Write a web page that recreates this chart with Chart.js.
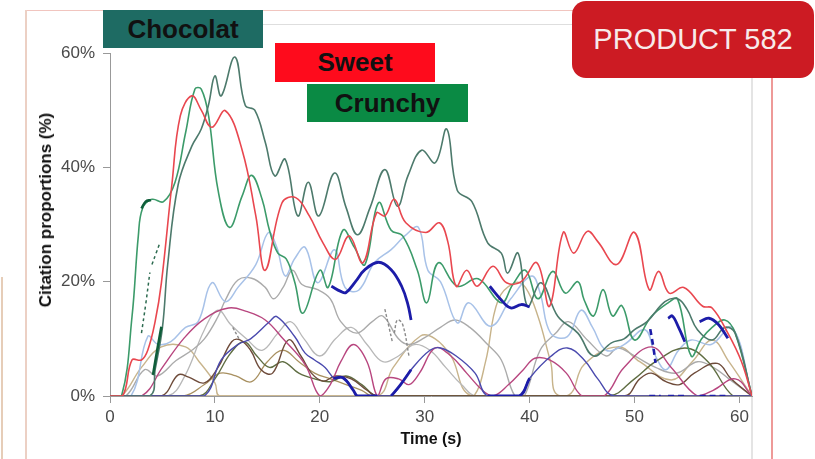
<!DOCTYPE html>
<html><head><meta charset="utf-8">
<script src="https://cdn.jsdelivr.net/npm/chart.js@4/dist/chart.umd.min.js"></script>
<style>
html,body{margin:0;padding:0;background:#fff;}
#wrap{position:relative;width:815px;height:459px;overflow:hidden;font-family:"Liberation Sans",Arial,sans-serif;background:#fff;}
canvas{position:absolute;left:0;top:0;}
.ln{position:absolute;}
.tag{position:absolute;display:flex;align-items:center;justify-content:center;font-weight:bold;font-size:26px;color:#111;}
#ytitle{position:absolute;left:46px;top:210px;width:0;height:0;}
#ytitle span{position:absolute;left:0;top:0;transform:translate(-50%,-50%) rotate(-90deg);white-space:nowrap;font-weight:bold;font-size:17px;color:#111;}
</style></head><body>
<div id="wrap">
  <div class="ln" style="left:25px;top:10px;width:548px;height:1px;background:#f1c5bf"></div>
  <div class="ln" style="left:25px;top:10px;width:2px;height:449px;background:#ecd0c4"></div>
  <div class="ln" style="left:1px;top:277px;width:2px;height:182px;background:#e6cdb8"></div>
  <div class="ln" style="left:771px;top:78px;width:2px;height:381px;background:#ee9a98"></div>
  <div class="ln" style="left:263px;top:24px;width:310px;height:1px;background:#dedede"></div>
  <div class="ln" style="left:751px;top:78px;width:2px;height:381px;background:#e4e4e4"></div>
  <canvas id="c" width="815" height="459"></canvas>
  <div id="ytitle"><span>Citation proportions (%)</span></div>
  <div class="tag" style="left:103px;top:10px;width:160px;height:38px;background:#1e6b63">Chocolat</div>
  <div class="tag" style="left:275px;top:43px;width:160px;height:39px;background:#fe0b1c">Sweet</div>
  <div class="tag" style="left:307px;top:84px;width:161px;height:38px;background:#0a8a44">Crunchy</div>
  <div class="tag" style="left:572px;top:1px;width:242px;height:77px;background:#cc1b23;border-radius:14px;font-weight:normal;font-size:29px;color:#f7eaea">PRODUCT 582</div>
</div>
<script>
// ---- data (time in s, citation proportion in %) ----
const xTicks = [0, 10, 20, 30, 40, 50, 60];
const yTicks = [0, 20, 40, 60];

const sweetT = [0,1.2,2.1,3.0,3.6,4.3,4.9,5.9,6.7,7.8,8.7,9.7,11.0,12.6,13.9,14.8,16.4,17.7,19.0,20.3,21.5,22.8,24.1,25.4,26.2,27.1,28.2,30.1,31.4,32.2,33.0,34.0,35.0,36.5,37.8,39.2,40.7,41.9,43.2,44.2,45.5,46.5,48.3,50.0,51.4,52.3,53.3,54.7,56.5,57.4,58.9,60.2,61.2];
const sweetV = [0,0,6.3,6.3,8,13,19.8,37,49,52.5,50,47,49.9,43,31.5,22,33.8,34.7,31.5,26.8,23.9,28,23.3,32,31.5,34.4,30.3,28.6,30.3,27,19.2,22,19.2,22.7,19.8,20,23.3,15.7,28.6,25,28.8,27,23,28.6,18.6,21.8,18,19,15.7,15.4,11,6,0];

const crunchyT = [0,1.1,2.1,2.7,3.1,4.0,5.1,6.2,7.2,8.1,8.7,9.4,10.3,11.4,12.6,13.5,14.5,15.2,16.0,16.8,17.6,18.4,20.0,20.8,22.2,23.3,24.3,25.6,26.8,27.9,29.3,30.2,31.3,33.1,35.1,37.3,38.4,39.6,40.8,42.2,43.4,44.6,45.2,46.1,47.0,47.9,48.8,50.0,51.6,53.2,54.1,55.4,56.4,57.4,58.6,59.6,61.2];
const crunchyV = [0,0,13.9,28,32.8,34.4,34,37.4,46,53.7,53.7,49,36,29.5,35,38.6,34.4,29,25,24,20,14.5,22,19,29,26,23,33.8,29,28,22,16.3,23.3,19.2,20.5,16.3,19.5,22,17,21.8,18,20,16.8,14,18.6,14,15.8,9.8,13.9,16.3,17,7,10,12,13.3,11,0];

const chocolatT = [0,3.8,4.3,5.0,5.5,6.5,7.8,8.7,9.4,10.0,10.6,11.9,12.9,13.8,14.8,15.7,16.7,17.9,18.9,19.9,21.4,22.5,23.6,24.8,26.2,27.4,28.4,29.7,31.0,32.1,33.1,34.5,36.0,37.3,37.9,38.9,39.8,41.1,42.7,44.6,46.1,47.8,49.0,50.0,51.2,52.9,54.1,55.0,56.0,57.4,58.6,59.6,61.2];
const chocolatV = [0,0,4.6,12,23,37,43.7,46.7,51,56,52.5,59.3,50.8,50,44.4,38.5,41.4,31.5,37.4,31.5,39,33,28.2,33,39.6,33.2,38.5,43,40.8,46.7,36,34,26.8,25,21.5,25,15.7,19.8,13.9,11,7,9.3,10,11.6,13,16.5,17,15.2,11.6,9.8,12,11,0];

const lightBlueT = [0,2.0,3.6,4.6,5.8,7.2,8.4,9.7,11.0,12.2,13.9,15.1,15.9,16.7,17.6,18.6,19.8,21.4,22.4,23.7,25.2,26.8,28.1,29.4,30.3,31.5,33.1,34.2,36.3,38.2,40.2,41.0,42.0,43.6,44.9,46.0,47.3,49.0,51.0,52.0,53.0,54.2,55.4,57.3,59.3,61.2];
const lightBlueV = [0,0,10.4,9,9.5,12,13,19.8,16.5,19,23,28.6,26,21,24,26,19.8,25.6,19,18.5,23.3,25.6,28,29.5,22,20,12.8,16.3,12.2,17,21,18,11,10.4,15,12,8,9,11.6,7,4.6,8,9.8,9,12,0];

const grayAT = [0,1.5,3.3,4.5,6.3,7.8,9.0,10.3,11.0,12.2,13.5,14.8,15.6,16.5,17.4,18.3,19.8,21.0,22.0,23.5,25.0,26.0,27.5,28.5,30.0,31.5,32.9,34.3,36.0,37.3,38.6,39.5,41.0,42.5,43.7,45.5,47.3,48.4,50.0,52.0,54.0,56.0,57.5,59.0,61.2];
const grayAV = [0,0,4.6,3.5,6.2,8,10,13.9,16.8,20.3,20.6,19,17,19,22,19.5,18.6,17,13,11,13,14,10,9,10.2,12,13.3,12,9,6.3,0,0,8,11,13,9.8,7,8.4,7,5,4,6,5,3,0];

const grayBT = [0,5.5,7.1,9.0,10.3,11.5,13.0,14.5,16.0,17.2,18.5,20.0,21.5,23.0,24.5,26.0,27.5,29.0,30.5,32.0,33.5,35.0,61.2];
const grayBV = [0,0,3.4,11.6,15,12.5,10,8,11,13,10,7,10,12,9,6,7,9,8,5,2,0,0];

const tanT = [0,1.1,3.0,4.9,7.2,8.5,10.0,10.5,25.4,27.0,29.6,31.0,32.5,34.5,43.5,45.2,48.4,50.5,53.5,55.5,57.4,59.0,61.2];
const tanV = [0,0,5,8.6,8.6,6,2.3,0,0,5,10.5,10,7,0,0,5.5,8.6,6,2.8,6,9.8,6,0];

const tanArcT = [0,33.5,34.7,35.8,37.0,38.6,39.6,40.8,42.0,43.0,61.2];
const tanArcV = [0,0,0,6,16.8,19.8,19,13.9,6,0,0];

const magentaT = [0,3.0,5.0,7.0,9.0,11.3,13.0,14.8,16.5,18.6,20.0,21.0,22.0,23.2,24.5,25.5,26.3,27.5,28.5,29.5,31.0,32.5,34.0,35.5,36.5,38.0,39.4,40.5,41.9,43.5,45.0,47.1,49.0,51.6,53.5,56.0,57.5,59.6,61.2];
const magentaV = [0,0,5,10,13.5,15.4,14.8,13.3,10,5.5,0,2,6,9,6,0,3,3,2,4,8.4,7,4,1,0,2,4.6,6.6,6.3,4,0,0,5,8.6,5,0,1,3,0];

const blueT = [0,6.2,9.0,10.6,12.2,13.4,15.2,15.9,17.6,18.6,19.5,20.5,21.4,22.3,23.2,23.6,25.5,26.8,28.7,30.5,31.5,33.0,34.8,36.0,39.0,40.0,42.0,43.6,45.2,46.5,48.1,61.2];
const blueV = [0,0,0,6.3,9,10,13,13.9,10.4,7.5,6.3,5,3.1,3.2,1,0,0,0,4.6,8,8.4,7,4,0,0,3.1,6.9,8.4,6.3,3,0,0];

const brownT = [0,4.9,6.5,7.5,9.0,10.3,11.6,12.4,13.4,14.4,15.5,17.0,18.2,19.2,20.3,21.5,23.0,24.5,25.5,49.0,50.5,51.6,53.0,54.3,55.7,57.9,59.2,61.2];
const brownV = [0,0,3.7,3.3,2.3,5,9.5,9.8,8,4.6,4,9.8,7,4,2.6,3.5,3,1,0,0,3,4,2.5,2,4,5.7,3,0];

const oliveT = [0,8.5,10.0,11.5,12.8,14.0,15.2,16.5,18.0,19.5,21.0,22.5,24.0,25.5,47.5,50.0,52.0,54.8,57.0,59.4,61.2];
const oliveV = [0,0,3,7.5,9.5,7,5,6,4,3,2.5,3.5,2,0,0,3,6,8.4,6,0,0];

const khakiT = [0,7.0,9.0,10.5,12.0,13.5,15.0,16.5,18.0,19.5,21.0,22.5,24.0,25.0,61.2];
const khakiV = [0,0,2,4,3.5,2.5,6,8,6,4,3,2,1,0,0];

// significant / dashed fragments (null = break)
const navyT = [21.1,22.0,22.5,23.4,24.3,25.6,26.8,27.8,28.4,28.7,null,21.3,22.2,23.2,23.6,25.5,null,26.8,27.7,28.7,null,36.2,37.3,38.2,39.2,40.0,null,36.0,39.0,40.0,null,53.2,53.6,54.2,54.8,null,56.2,57.1,58.0,58.9];
const navyV = [19.2,18.3,18.1,20,22.1,23.4,22.1,19.2,16,13.3,null,3.1,3.2,1,0,0,null,0,2,4.6,null,19.2,16.8,15.4,16,15.6,null,0,0,3.1,null,13.6,14,12,9.5,null,13,13.6,12.5,10.1];
const navyDashT = [51.4,52.5,null,53.2,55.1,null,56.2,59.0,null,51.5,51.8,52.0];
const navyDashV = [0,0,null,0,0,null,0,0,null,11.7,8.5,5.8];
const darkGreenT = [3.0,3.4,3.9,null,4.1,4.5,4.9];
const darkGreenV = [32.8,34,34.3,null,3.7,8,12.1];
const greenDashT = [3.0,3.4,3.8,null,4.0,4.4,4.7];
const greenDashV = [11,16,21.6,null,23,25,26.5];
const grayDashT = [11.7,12.3,null,26.2,26.6,26.9,null,27.1,27.4,27.9,28.5];
const grayDashV = [12,10,null,15.2,12,9.6,null,11,13.3,12.5,7];

function pts(T, V) {
  return T.map((t, i) => ({ x: t === null ? T[i - 1] : t, y: V[i] }));
}
function ds(label, T, V, color, width, dash) {
  return {
    label, data: pts(T, V), borderColor: color, backgroundColor: color,
    borderWidth: width, borderDash: dash || [], pointRadius: 0,
    tension: 0.4, spanGaps: false, fill: false
  };
}

const datasets = [
  ds('Significant', navyT, navyV, '#1c1ca8', 2.8),
  ds('Significant dashed', navyDashT, navyDashV, '#1c1ca8', 2.6, [6, 4]),
  ds('Significant green', darkGreenT, darkGreenV, '#0f5e3a', 2.6),
  ds('Green dashed', greenDashT, greenDashV, '#2d6b50', 1.5, [3, 3]),
  ds('Gray dashed', grayDashT, grayDashV, '#8a8a8a', 1.4, [3, 2]),
  ds('Sweet', sweetT, sweetV, '#e9474f', 1.6),
  ds('Chocolat', chocolatT, chocolatV, '#4d7a6c', 1.6),
  ds('Crunchy', crunchyT, crunchyV, '#3c9b6a', 1.6),
  ds('Blue', blueT, blueV, '#4a4aae', 1.4),
  ds('Magenta', magentaT, magentaV, '#b8467f', 1.4),
  ds('Brown', brownT, brownV, '#6e4b3a', 1.4),
  ds('Olive', oliveT, oliveV, '#5f6d42', 1.4),
  ds('Khaki', khakiT, khakiV, '#a89060', 1.3),
  ds('Light blue', lightBlueT, lightBlueV, '#a8c2e8', 1.5),
  ds('Gray A', grayAT, grayAV, '#ababab', 1.4),
  ds('Gray B', grayBT, grayBV, '#b8b8b8', 1.3),
  ds('Tan', tanT, tanV, '#c8b48c', 1.4),
  ds('Tan arc', tanArcT, tanArcV, '#c7b38a', 1.4)
];

new Chart(document.getElementById('c'), {
  type: 'line',
  data: { datasets },
  options: {
    responsive: false, animation: false, devicePixelRatio: 1,
    layout: { padding: { left: 30, top: 53, right: 63, bottom: 10 } },
    plugins: { legend: { display: false }, tooltip: { enabled: false } },
    scales: {
      x: {
        type: 'linear', min: 0, max: 61.2,
        afterFit: s => { s.height = 53; },
        afterBuildTicks: s => { s.ticks = xTicks.map(v => ({ value: v })); },
        grid: { drawOnChartArea: false, drawTicks: true, tickLength: 7, color: '#999' },
        border: { display: true, color: '#999', width: 1 },
        ticks: { color: '#4a4a4a', font: { size: 17, family: '"Liberation Sans", Arial, sans-serif' }, padding: 4, maxRotation: 0 },
        title: { display: true, text: 'Time (s)', color: '#111', padding: { top: 0, bottom: 0 },
                 font: { size: 16, weight: 'bold', family: '"Liberation Sans", Arial, sans-serif' } }
      },
      y: {
        type: 'linear', min: 0, max: 60,
        afterFit: s => { s.width = 80; },
        afterBuildTicks: s => { s.ticks = yTicks.map(v => ({ value: v })); },
        grid: { drawOnChartArea: false, drawTicks: true, tickLength: 7, color: '#999' },
        border: { display: true, color: '#999', width: 1 },
        ticks: { color: '#4a4a4a', font: { size: 17, family: '"Liberation Sans", Arial, sans-serif' }, padding: 8,
                 callback: v => v + '%' },
        title: { display: false }
      }
    }
  }
});
</script>
</body></html>
